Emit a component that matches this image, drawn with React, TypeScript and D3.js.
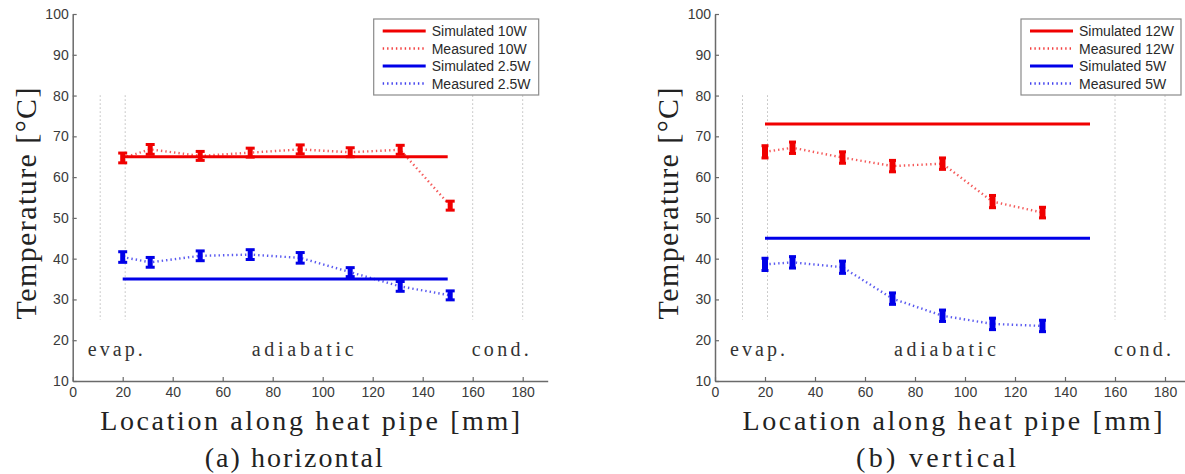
import React, { useRef, useEffect } from 'react';
import * as d3 from 'd3';

// axis ticks
const xTicks = [0, 20, 40, 60, 80, 100, 120, 140, 160, 180];
const yTicks = [10, 20, 30, 40, 50, 60, 70, 80, 90, 100];

// section boundaries (dotted) and labels
const sectionBounds = [11, 21, 160, 180];
const sectionLabels = ['evap.', 'adiabatic', 'cond.'];
const sectionLabelX = [17, 92, 171];
const sectionLabelWidth = [55, 102, 57];

// simulated lines span
const simX = [20, 150];

// (a) horizontal
const horizX = [20, 31, 51, 71, 91, 111, 131, 151];
const horizSim10W = [65, 65];
const horizMeas10W = [64.7, 66.8, 65.2, 66.0, 66.8, 66.1, 66.7, 53.0];
const horizErr10W = [1.2, 1.2, 1.1, 1.1, 1.1, 1.1, 1.1, 1.1];
const horizSim25W = [35, 35];
const horizMeas25W = [40.4, 39.1, 40.7, 41.0, 40.2, 36.7, 33.2, 31.0];
const horizErr25W = [1.3, 1.2, 1.2, 1.2, 1.3, 1.1, 1.2, 1.1];
const horizLegend = ['Simulated 10W', 'Measured 10W', 'Simulated 2.5W', 'Measured 2.5W'];

// (b) vertical
const vertX = [20, 31, 51, 71, 91, 111, 131];
const vertSim12W = [73, 73];
const vertMeas12W = [66.2, 67.2, 64.8, 62.7, 63.3, 54.0, 51.3];
const vertErr12W = [1.5, 1.4, 1.4, 1.4, 1.4, 1.5, 1.3];
const vertSim5W = [45, 45];
const vertMeas5W = [38.6, 39.1, 37.9, 30.2, 26.0, 24.0, 23.5];
const vertErr5W = [1.5, 1.4, 1.5, 1.4, 1.4, 1.4, 1.4];
const vertLegend = ['Simulated 12W', 'Measured 12W', 'Simulated 5W', 'Measured 5W'];

const captions = ['(a) horizontal', '(b) vertical'];
const captionWidth = [178, 160];

const RED = '#f00000';
const BLUE = '#0000e8';

type Series = { sim: number[]; meas: number[]; err: number[]; color: string };

const App = () => {
  const svgRef = useRef<SVGSVGElement | null>(null);

  useEffect(() => {
    if (!svgRef.current) return;
    document.body.style.margin = '0';
    const root = d3.select(svgRef.current);
    root.selectAll('*').remove();

    const top = 14;
    const bottom = 381;

    const panels = [
      {
        left: 72.7,
        locs: horizX,
        series: [
          { sim: horizSim10W, meas: horizMeas10W, err: horizErr10W, color: RED },
          { sim: horizSim25W, meas: horizMeas25W, err: horizErr25W, color: BLUE },
        ] as Series[],
        legend: horizLegend,
        legendW: 165,
        barW: 5,
        capW: 9,
      },
      {
        left: 715,
        locs: vertX,
        series: [
          { sim: vertSim12W, meas: vertMeas12W, err: vertErr12W, color: RED },
          { sim: vertSim5W, meas: vertMeas5W, err: vertErr5W, color: BLUE },
        ] as Series[],
        legend: vertLegend,
        legendW: 160,
        barW: 6,
        capW: 7,
      },
    ];

    panels.forEach((p, pi) => {
      const x = d3.scaleLinear().domain([0, 190]).range([p.left, p.left + 475]);
      const y = d3.scaleLinear().domain([10, 100]).range([bottom, top]);
      const g = root.append('g');

      // section boundaries
      sectionBounds.forEach(b => {
        g.append('line')
          .attr('x1', x(b)).attr('x2', x(b))
          .attr('y1', y(80)).attr('y2', y(25))
          .attr('stroke', '#9a9a9a')
          .attr('stroke-width', 1)
          .attr('stroke-dasharray', '1,3');
      });

      sectionLabels.forEach((t, i) => {
        g.append('text')
          .attr('x', x(sectionLabelX[i]))
          .attr('y', y(17.6))
          .attr('dy', '0.3em')
          .attr('text-anchor', 'middle')
          .attr('font-family', '"Liberation Serif", serif')
          .attr('font-size', 20)
          .attr('fill', '#333')
          .attr('textLength', sectionLabelWidth[i])
          .attr('lengthAdjust', 'spacing')
          .text(t);
      });

      // axes
      const xAxis = d3.axisBottom(x).tickValues(xTicks).tickSizeInner(-4).tickSizeOuter(0).tickPadding(6);
      const gx = g.append('g').attr('transform', `translate(0,${bottom})`).call(xAxis);
      const yAxis = d3.axisLeft(y).tickValues(yTicks).tickSizeInner(-4).tickSizeOuter(0).tickPadding(4);
      const gy = g.append('g').attr('transform', `translate(${p.left},0)`).call(yAxis);
      [gx, gy].forEach(ax => {
        ax.select('.domain').attr('stroke', '#6a6a6a').attr('stroke-width', 1.5);
        ax.selectAll('.tick line').attr('stroke', '#6a6a6a').attr('stroke-width', 1.2);
        ax.selectAll('.tick text')
          .attr('fill', '#3a3a3a')
          .attr('font-family', '"Liberation Sans", Arial, sans-serif')
          .attr('font-size', 14);
      });

      // series
      const line = d3.line<[number, number]>().x(d => x(d[0])).y(d => y(d[1]));
      p.series.forEach(s => {
        g.append('path')
          .attr('d', line(simX.map((v, i) => [v, s.sim[i]] as [number, number])))
          .attr('fill', 'none')
          .attr('stroke', s.color)
          .attr('stroke-width', 3);

        g.append('path')
          .attr('d', line(p.locs.map((v, i) => [v, s.meas[i]] as [number, number])))
          .attr('fill', 'none')
          .attr('stroke', s.color)
          .attr('stroke-opacity', 0.65)
          .attr('stroke-width', 2.4)
          .attr('stroke-dasharray', '1.4,3');

        p.locs.forEach((loc, i) => {
          const cx = x(loc);
          const y1 = y(s.meas[i] + s.err[i]);
          const y2 = y(s.meas[i] - s.err[i]);
          g.append('line')
            .attr('x1', cx).attr('x2', cx)
            .attr('y1', y1).attr('y2', y2)
            .attr('stroke', s.color)
            .attr('stroke-width', p.barW);
          [y1, y2].forEach(cy => {
            g.append('line')
              .attr('x1', cx - p.capW / 2).attr('x2', cx + p.capW / 2)
              .attr('y1', cy).attr('y2', cy)
              .attr('stroke', s.color)
              .attr('stroke-width', 3);
          });
        });
      });

      // legend
      const lx = x(190) - 9 - p.legendW;
      const ly = 19;
      const lg = g.append('g').attr('transform', `translate(${lx},${ly})`);
      lg.append('rect')
        .attr('width', p.legendW).attr('height', 76)
        .attr('fill', '#fff')
        .attr('stroke', '#8a8a8a')
        .attr('stroke-width', 1.2);
      p.legend.forEach((t, i) => {
        const s = p.series[Math.floor(i / 2)];
        const rowY = 12 + i * 17.5;
        lg.append('line')
          .attr('x1', 9).attr('x2', 52)
          .attr('y1', rowY).attr('y2', rowY)
          .attr('stroke', s.color)
          .attr('stroke-width', i % 2 === 0 ? 3 : 2.4)
          .attr('stroke-opacity', i % 2 === 0 ? 1 : 0.75)
          .attr('stroke-dasharray', i % 2 === 0 ? null : '1.4,3');
        lg.append('text')
          .attr('x', 58).attr('y', rowY)
          .attr('dy', '0.36em')
          .attr('font-family', '"Liberation Sans", Arial, sans-serif')
          .attr('font-size', 14)
          .attr('fill', '#2a2a2a')
          .text(t);
      });

      // axis labels
      g.append('text')
        .attr('x', x(95)).attr('y', 430)
        .attr('text-anchor', 'middle')
        .attr('font-family', '"Liberation Serif", serif')
        .attr('font-size', 28)
        .attr('fill', '#222')
        .attr('textLength', 420)
        .attr('lengthAdjust', 'spacing')
        .text('Location along heat pipe [mm]');

      g.append('text')
        .attr('transform', `translate(${p.left - 37},${(top + bottom) / 2 + 6}) rotate(-90)`)
        .attr('text-anchor', 'middle')
        .attr('font-family', '"Liberation Serif", serif')
        .attr('font-size', 30)
        .attr('fill', '#222')
        .attr('textLength', 232)
        .attr('lengthAdjust', 'spacing')
        .text('Temperature [°C]');

      g.append('text')
        .attr('x', p.left + 221).attr('y', 467)
        .attr('text-anchor', 'middle')
        .attr('font-family', '"Liberation Serif", serif')
        .attr('font-size', 28)
        .attr('fill', '#222')
        .attr('textLength', captionWidth[pi])
        .attr('lengthAdjust', 'spacing')
        .text(captions[pi]);
    });
  }, []);

  return <svg ref={svgRef} width={1185} height={474} style={{ display: 'block', background: '#fff' }} />;
};

export default App;
